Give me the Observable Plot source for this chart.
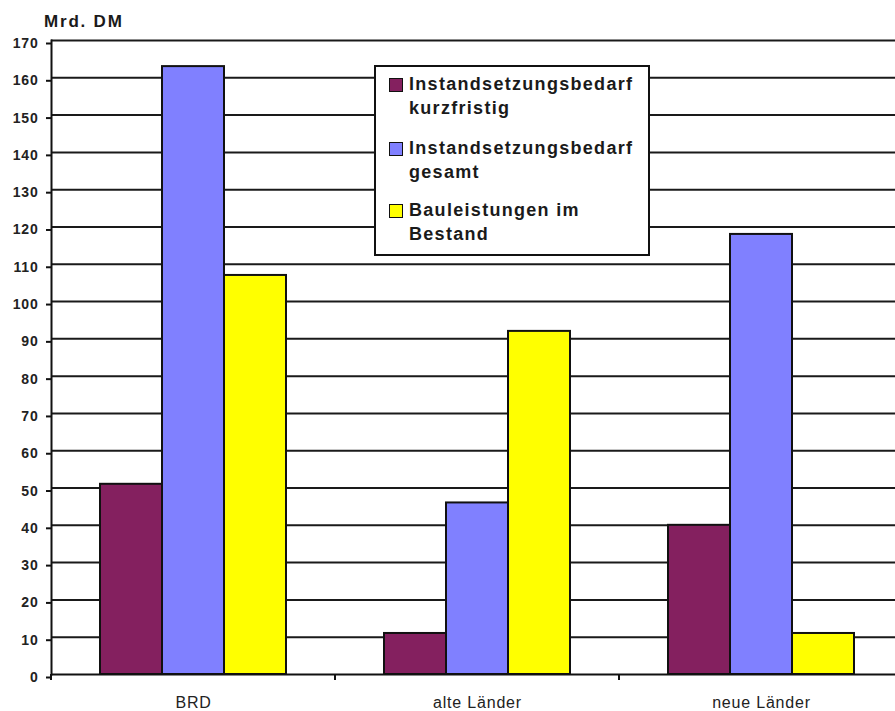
<!DOCTYPE html>
<html>
<head>
<meta charset="utf-8">
<script src="https://cdn.jsdelivr.net/npm/d3@7"></script>
<script src="https://cdn.jsdelivr.net/npm/@observablehq/plot@0.6"></script>
<style>
  body { margin: 0; background: #fff; overflow: hidden; }
  #chart { position: relative; width: 895px; height: 711px; overflow: hidden;
           font-family: "Liberation Sans", Arial, sans-serif; color: #111; }
  #chart svg { position: absolute; left: 0; top: 0; }
  #title { position: absolute; left: 44px; top: 12.6px; font-size: 17px; line-height: 17px;
           font-weight: bold; letter-spacing: 1.8px; color: #1a1a1a; white-space: nowrap; z-index: 2; }
  #legend { position: absolute; left: 374px; top: 65px; width: 276px; height: 191px;
            box-sizing: border-box; border: 2px solid #111; background: #fff; z-index: 2; }
  #legend .item { position: absolute; left: 0; width: 100%; }
  #legend .swatch { position: absolute; left: 13px; top: 6px; width: 14px; height: 14px;
                    box-sizing: border-box; border: 1.5px solid #111; }
  #legend .label { position: absolute; left: 33px; top: 0; font-size: 18px; line-height: 24px;
                   font-weight: bold; letter-spacing: 1.3px; color: #1a1a1a; white-space: nowrap; }
  g[aria-label="y-axis tick label"] text { letter-spacing: 0.8px; }
  g[aria-label="fx-axis tick label"] text { letter-spacing: 0.8px; }
</style>
</head>
<body>
<div id="chart">
  <div id="title"></div>
  <div id="legend"></div>
</div>
<script>
// Categories and series
const groups = ["BRD", "alte Länder", "neue Länder"];
const series = [
  "Instandsetzungsbedarf kurzfristig",
  "Instandsetzungsbedarf gesamt",
  "Bauleistungen im Bestand"
];
const legendLines = [
  ["Instandsetzungsbedarf", "kurzfristig"],
  ["Instandsetzungsbedarf", "gesamt"],
  ["Bauleistungen im", "Bestand"]
];

// Values in Mrd. DM, one per category
const kurzfristig = [51, 11, 40];
const gesamt = [163, 46, 118];
const bestand = [107, 92, 11];

const yTicks = [0, 10, 20, 30, 40, 50, 60, 70, 80, 90, 100, 110, 120, 130, 140, 150, 160, 170];
const colors = ["#84205f", "#8080ff", "#ffff00"];
const unit = "Mrd. DM";

const table = groups.flatMap((g, i) => [
  {group: g, series: series[0], value: kurzfristig[i]},
  {group: g, series: series[1], value: gesamt[i]},
  {group: g, series: series[2], value: bestand[i]}
]);

// Small downward tick at the left boundary of each category band
function boundaryTick(index, scales, values, dimensions) {
  const y0 = scales.y(0);
  const g = d3.create("svg:g");
  g.append("line")
    .attr("x1", dimensions.marginLeft).attr("x2", dimensions.marginLeft)
    .attr("y1", y0).attr("y2", y0 + 6)
    .attr("stroke", "#111").attr("stroke-width", 2);
  return g.node();
}

const chart = Plot.plot({
  width: 895,
  height: 711,
  marginTop: 40,
  marginBottom: 37,
  marginLeft: 51,
  marginRight: 0,
  style: {fontFamily: "Liberation Sans, Arial, sans-serif", background: "transparent", color: "#1a1a1a"},
  fx: {domain: groups, range: [51, 903], padding: 0},
  x: {domain: series, paddingInner: 0, paddingOuter: 0.77, axis: null},
  y: {domain: [0, 170]},
  color: {domain: series, range: colors},
  marks: [
    Plot.gridY(yTicks.filter(t => t > 0), {stroke: "#1a1a1a", strokeOpacity: 1, strokeWidth: 2}),
    Plot.barY(table, {fx: "group", x: "series", y: "value", fill: "series", stroke: "#111", strokeWidth: 2}),
    Plot.ruleY([0], {stroke: "#111", strokeWidth: 2}),
    Plot.frame({anchor: "left", facetAnchor: "left", stroke: "#111", strokeWidth: 2}),
    boundaryTick,
    Plot.axisY({ticks: yTicks, tickSize: 5, tickPadding: 8, dy: 3, fontSize: 14, fontWeight: "bold",
                fill: "#222", stroke: "#111", strokeWidth: 2, label: null}),
    Plot.axisFx({anchor: "bottom", tickSize: 0, tickPadding: 22, fontSize: 16, fill: "#222", label: null})
  ]
});
document.getElementById("chart").appendChild(chart);

document.getElementById("title").textContent = unit;

// Legend box
const legend = d3.select("#legend");
const itemTops = [5, 69, 131];
series.forEach((s, i) => {
  const item = legend.append("div").attr("class", "item").style("top", itemTops[i] + "px");
  item.append("div").attr("class", "swatch").style("background", colors[i]);
  item.append("div").attr("class", "label").html(legendLines[i].join("<br>"));
});
</script>
</body>
</html>
